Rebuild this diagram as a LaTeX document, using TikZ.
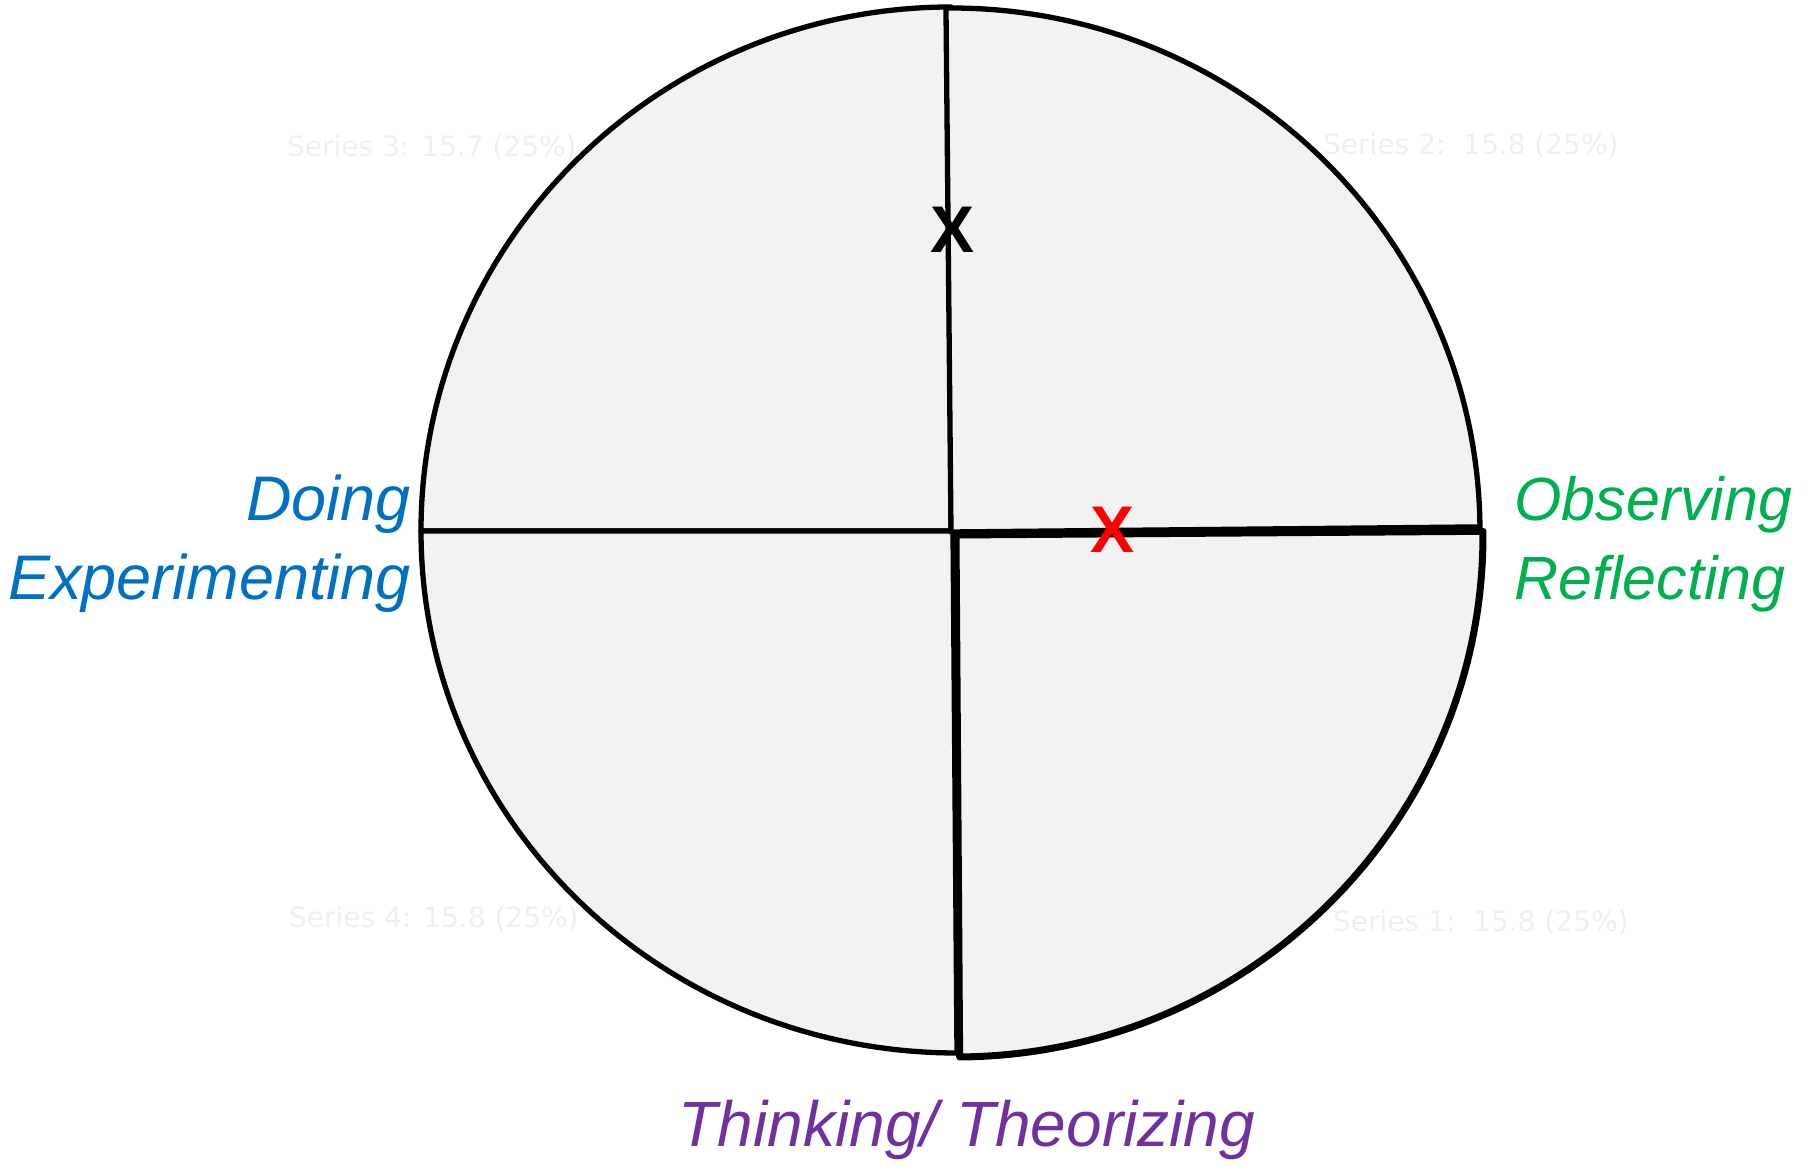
\documentclass[tikz,border=0pt]{standalone}
\usepackage{fontspec}
\setmainfont{Liberation Sans}
\newfontfamily\faintfont{DejaVu Sans}
\definecolor{slicefill}{HTML}{F2F2F2}
\definecolor{faint}{HTML}{EFEFEF}
\definecolor{doblue}{HTML}{0070C0}
\definecolor{obgreen}{HTML}{00B050}
\definecolor{thpurple}{HTML}{7030A0}
\begin{document}
\begin{tikzpicture}[x=1pt,y=1pt,
  slice/.style={fill=slicefill,draw=black,line width=5.3pt,line join=round},
  thickslice/.style={fill=slicefill,draw=black,line width=7pt,line join=round},
  bigword/.style={inner sep=0pt,font=\fontsize{63}{75}\selectfont\itshape},
  faintlbl/.style={inner sep=0pt,anchor=base west,text=faint,font=\faintfont\fontsize{28}{34}\selectfont},
  xmark/.style={inner sep=0pt,font=\fontsize{66}{78}\selectfont\bfseries}]
\useasboundingbox (0,0) rectangle (1816,1167);
% slices
\draw[slice] (951,636) -- (421,636) arc[start angle=180,end angle=90,x radius=530,y radius=524] -- cycle;
\draw[slice] (953,636) -- (421,636) arc[start angle=180,end angle=270,x radius=536,y radius=522] -- cycle;
\draw[slice,rotate around={0.55:(951,635)}] (951,635) -- (951,1159) arc[start angle=90,end angle=0,x radius=529,y radius=524] -- cycle;
\draw[thickslice,rotate around={0.4:(956,632)}] (956,632) -- (1483,632) arc[start angle=0,end angle=-90,x radius=527,y radius=522] -- cycle;
% faint labels
\node[faintlbl] (s3) at (287,1010) {Series 3: 15.7 (25\%)};
\node[faintlbl] (s2) at (1323,1012) {Series 2:\ \ 15.8 (25\%)};
\node[faintlbl] (s4) at (289,239) {Series 4: 15.8 (25\%)};
\node[faintlbl] (s1) at (1333,235) {Series 1:\ \ 15.8 (25\%)};
% X marks
\node[xmark,text=black] (xb) at (953,937) {X};
\node[xmark,text=red] (xr) at (1112,637) {X};
% labels
\node[bigword,anchor=base east,text=doblue] (doing) at (411,646) {Doing};
\node[bigword,anchor=base east,text=doblue] (exp) at (411,567) {Experimenting};
\node[bigword,anchor=base west,text=obgreen,font=\fontsize{61}{73}\selectfont\itshape] (obs) at (1514,646) {Observing};
\node[bigword,anchor=base west,text=obgreen,font=\fontsize{61}{73}\selectfont\itshape] (refl) at (1514,567) {Reflecting};
\node[bigword,anchor=base,text=thpurple,font=\fontsize{64}{76}\selectfont\itshape] (think) at (967,20) {Thinking/ Theorizing};
\end{tikzpicture}
\end{document}
